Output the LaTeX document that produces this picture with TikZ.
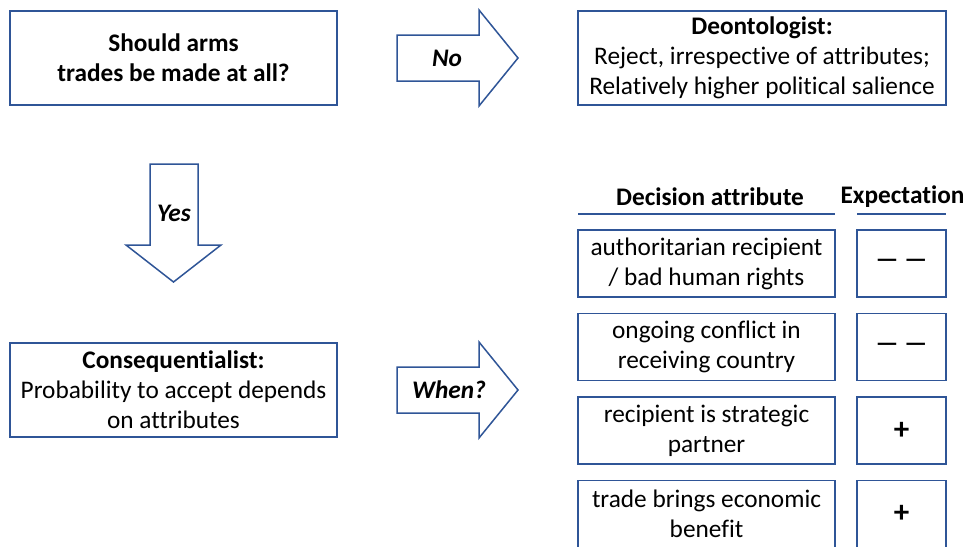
\documentclass[tikz,border=0pt]{standalone}
\usepackage{fontspec}
\setmainfont{Carlito}[Ligatures=CommonOff]
\usetikzlibrary{shapes.geometric}
\definecolor{boxblue}{RGB}{47,85,151}
\tikzstyle{big} = [rectangle, minimum width=327pt, minimum height=94pt, inner sep=0pt, text centered, align=center, draw=boxblue, line width=1.8pt, font=\fontsize{25.3}{30}\selectfont]
\tikzstyle{attr} = [rectangle, minimum width=257pt, minimum height=67pt, inner sep=0pt, text centered, align=center, draw=boxblue, line width=1.8pt, font=\fontsize{25.3}{30}\selectfont]
\tikzstyle{expect} = [rectangle, minimum width=89pt, minimum height=67pt, inner sep=0pt, text centered, draw=boxblue, line width=1.8pt, font=\fontsize{31}{31}\selectfont\bfseries]
\tikzstyle{head} = [font=\fontsize{25.3}{30}\selectfont\bfseries]
\tikzstyle{blockarrow} = [draw=boxblue, line width=1.5pt, line join=miter]
\tikzstyle{arrowtext} = [font=\fontsize{25.3}{30}\selectfont\bfseries\itshape]

\begin{document}
\begin{tikzpicture}[x=1pt, y=-1pt, node distance=83.5pt]
\clip (0,0) rectangle (966,546);

%% NODES

\node (q) [big] at (173.5,58) {\textbf{Should arms}\\\textbf{trades be made at all?}};
\node (deon) [big, minimum width=368pt] at (762,58) {\textbf{Deontologist:}\\Reject, irrespective of attributes;\\Relatively higher political salience};
\node (conseq) [big] at (173.5,390) {\textbf{Consequentialist:}\\Probability to accept depends\\on attributes};

\node (attrhead) [head] at (710,197) {Decision attribute};
\node (exphead) [head] at (902.5,197) {Expectation};

\node (a1) [attr] at (706.5,263.5) {authoritarian recipient\\/ bad human rights};
\node (a2) [attr, below of=a1] {ongoing conflict in\\receiving country};
\node (a3) [attr, below of=a2] {recipient is strategic\\partner};
\node (a4) [attr, below of=a3] {trade brings economic\\benefit};

\node (e1) [expect, font=\fontsize{25.3}{30}\selectfont\bfseries] at (901.5,263.5) {\textemdash\ \textemdash};
\node (e2) [expect, font=\fontsize{25.3}{30}\selectfont\bfseries, below of=e1] {\textemdash\ \textemdash};
\node (e3) [expect, below of=e2] {+};
\node (e4) [expect, below of=e3] {+};

%% UNDERLINES

\draw [boxblue, line width=1.8pt] (578,214) -- (835,214);
\draw [boxblue, line width=1.8pt] (857,214) -- (946,214);

%% BLOCK ARROWS

\draw [blockarrow] (397,35) -- (479,35) -- (479,10) -- (518,58) -- (479,106) -- (479,81) -- (397,81) -- cycle;
\node (no) [arrowtext] at (447,58) {No};

\draw [blockarrow] (150,164) -- (198,164) -- (198,245) -- (221,245) -- (173.5,282) -- (126,245) -- (150,245) -- cycle;
\node (yes) [arrowtext] at (174,213) {Yes};

\draw [blockarrow] (397,367) -- (479,367) -- (479,342) -- (518,390) -- (479,438) -- (479,413) -- (397,413) -- cycle;
\node (when) [arrowtext] at (449,390) {When?};

\end{tikzpicture}
\end{document}
